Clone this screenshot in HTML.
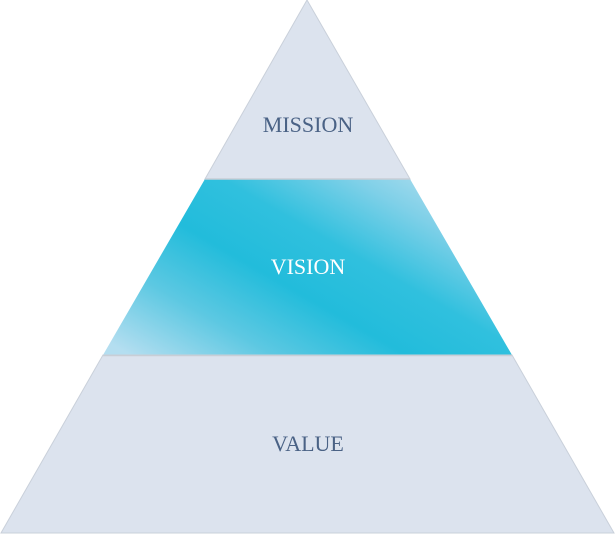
<!DOCTYPE html>
<html><head><meta charset="utf-8"><style>html,body{margin:0;padding:0;background:#fff}svg{display:block}</style></head>
<body>
<svg width="615" height="534" viewBox="0 0 615 534" xmlns="http://www.w3.org/2000/svg">
<defs>
<linearGradient id="g" x1="225" y1="410" x2="390" y2="124" gradientUnits="userSpaceOnUse">
<stop offset="0" stop-color="#b4def0"/>
<stop offset="0.22" stop-color="#5cc8e2"/>
<stop offset="0.42" stop-color="#22bcdb"/>
<stop offset="0.6" stop-color="#30c0de"/>
<stop offset="0.8" stop-color="#7fd0e8"/>
<stop offset="1" stop-color="#c0e2f0"/>
</linearGradient>
</defs>
<polygon points="307,0 410,179 205,179" fill="#dce3ee" stroke="#c9d0da" stroke-width="1"/>
<polygon points="205,179 410,179 512,355 103,355" fill="url(#g)"/>
<polygon points="103,355 512,355 614,533 1,533" fill="#dce3ee" stroke="#c9d0da" stroke-width="1"/>
<line x1="205" y1="179" x2="410" y2="179" stroke="#c8ced6" stroke-width="1.5"/>
<line x1="103" y1="355.5" x2="512" y2="355.5" stroke="#c8ced6" stroke-width="1.5"/>
<g font-family="Liberation Serif, serif" font-size="22" text-anchor="middle">
<text x="308" y="132" fill="#4a6285">MISSION</text>
<text x="308" y="274" fill="#ffffff">VISION</text>
<text x="308" y="451" fill="#4a6285">VALUE</text>
</g>
</svg>
</body></html>
